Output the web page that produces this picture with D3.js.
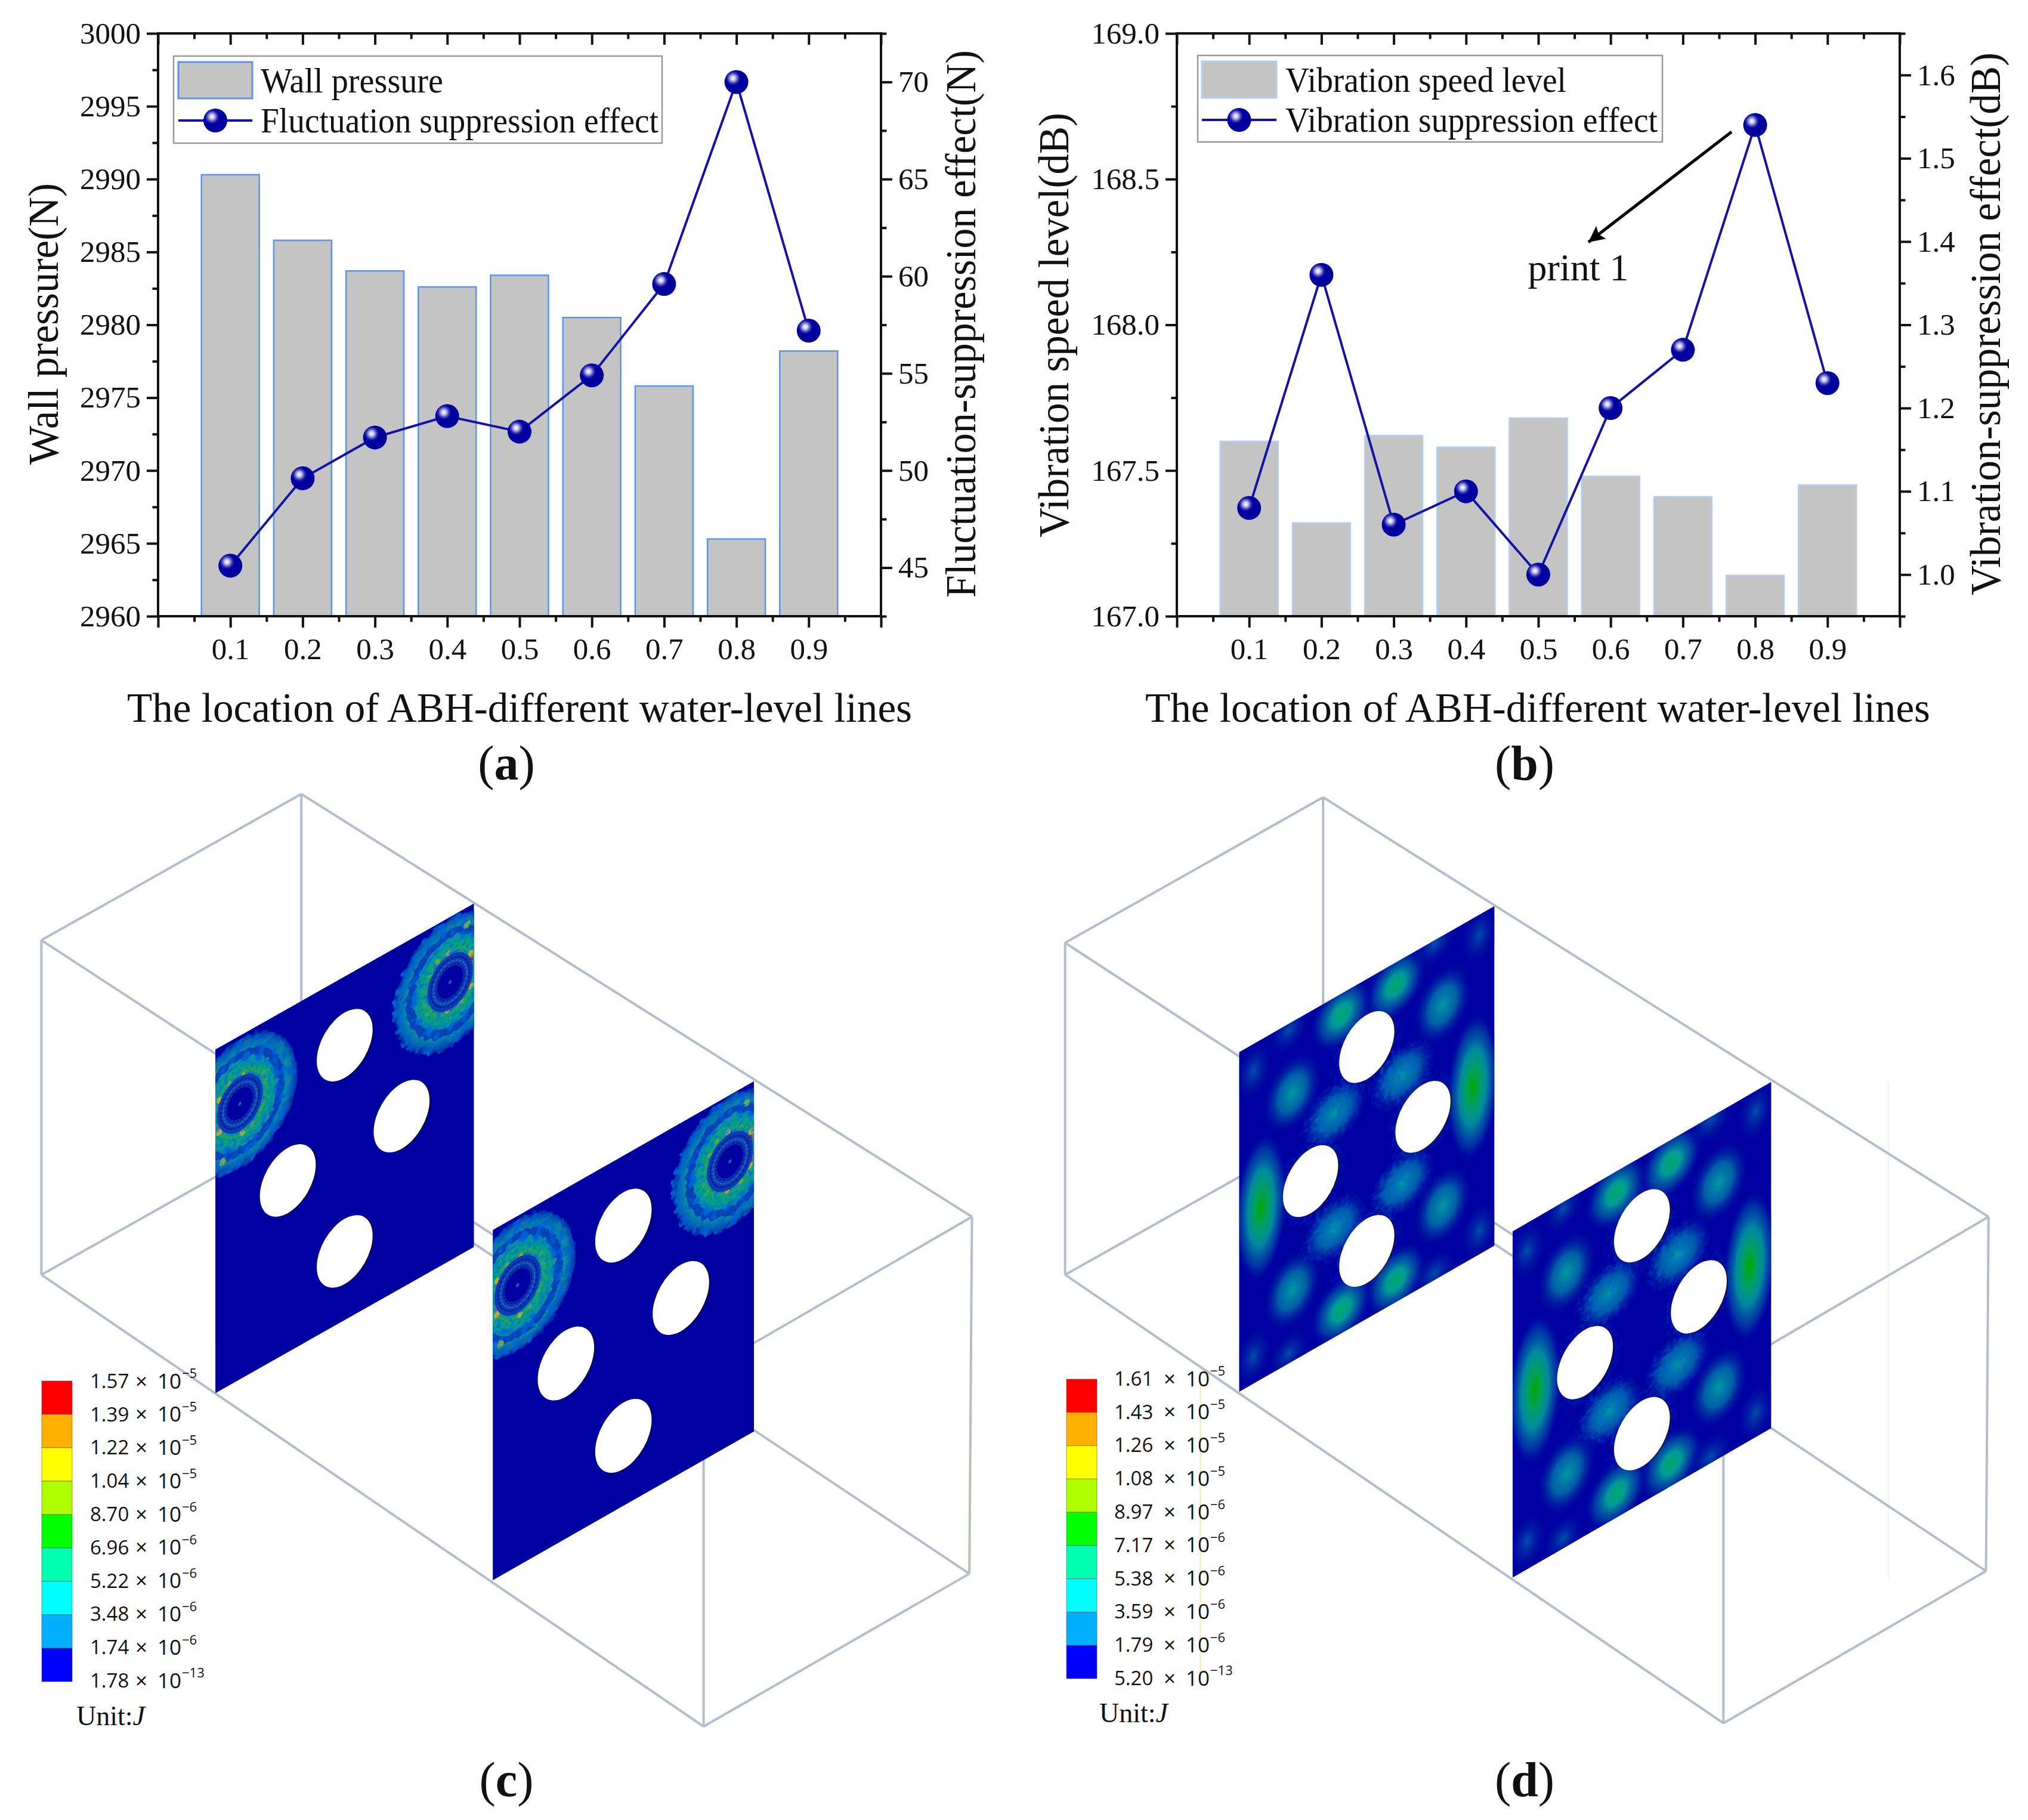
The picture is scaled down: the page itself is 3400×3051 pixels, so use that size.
<!DOCTYPE html>
<html><head><meta charset="utf-8">
<style>html,body{margin:0;padding:0;background:#fff}svg{display:block}text{font-family:"Liberation Serif",serif;fill:#111}</style>
<script src="https://cdn.jsdelivr.net/npm/d3@7"></script></head><body>
<script>
// ---------- chart values ----------
const locations=[0.1,0.2,0.3,0.4,0.5,0.6,0.7,0.8,0.9];
const wallPressure=[2990.3,2985.8,2983.7,2982.6,2983.4,2980.5,2975.8,2965.3,2978.2];
const fluctuationEffect=[45.1,49.6,51.7,52.8,52.0,54.9,59.6,70.0,57.2];
const vibrationLevel=[167.60,167.32,167.62,167.58,167.68,167.48,167.41,167.14,167.45];
const vibrationEffect=[1.08,1.36,1.06,1.10,1.00,1.20,1.27,1.54,1.23];
const cMantissa=["1.57","1.39","1.22","1.04","8.70","6.96","5.22","3.48","1.74","1.78"];
const dMantissa=["1.61","1.43","1.26","1.08","8.97","7.17","5.38","3.59","1.79","5.20"];
const legendExp=["−5","−5","−5","−5","−6","−6","−6","−6","−6","−13"];
const bandColors=["#ff0000","#ffb000","#ffff00","#b0ff00","#00ff00","#00ffb0","#00ffff","#00b0ff","#0000ff"];
// hole centres on a panel, (u,v) in panel fractions
const holes=[[.5,.2],[.72,.5],[.28,.5],[.5,.8]];
// panel (c): hot spots around ring centre, [du,dv,colour,size]
const ringSpots=[[-.08,-.026,"#d01000",3],[-.08,.035,"#d01000",3],[-.078,-.045,"#b8b000",5],[-.08,.05,"#b8b000",5],[.012,-.078,"#c0a000",4],[.007,.087,"#a0b810",4],[.099,-.023,"#30b040",4],[-.065,.14,"#70b030",6],[-.04,-.075,"#60b020",4],[.08,.05,"#40b030",4],[.05,.08,"#60b020",4],[.09,-.055,"#30b040",4]];
// panel (d): field maxima, [u,v,ru,rv,kind]
const fieldBumps=[[.916,.496,.105,.22,"strong"],[.086,.494,.105,.22,"strong"],
[.613,.066,.125,.1,"mid"],[.40,.062,.125,.1,"mid"],[.613,.934,.125,.1,"mid"],[.40,.93,.125,.1,"mid"],
[.797,.203,.12,.115,"teal"],[.208,.21,.12,.115,"teal"],[.797,.795,.12,.115,"teal"],[.208,.79,.12,.115,"teal"],
[.372,.34,.135,.095,"rough"],[.638,.342,.135,.095,"rough"],[.372,.68,.135,.095,"rough"],[.638,.66,.135,.095,"rough"],
[.765,.01,.1,.07,"faint"],[.94,.06,.08,.09,"faint"],[.056,.08,.08,.09,"faint"],[.195,.02,.09,.07,"faint"],
[.94,.93,.08,.09,"faint"],[.056,.92,.08,.09,"faint"],[.195,.97,.09,.07,"faint"],[.765,.98,.1,.07,"faint"]];
// ---------- layout ----------
const W=3400,H=3051;
const svg=d3.select("body").append("svg").attr("width",W).attr("height",H).attr("viewBox",[0,0,W,H]);
svg.append("rect").attr("width",W).attr("height",H).attr("fill","#fff");
const defs=svg.append("defs");
const ball=defs.append("radialGradient").attr("id","ball").attr("cx",.36).attr("cy",.34).attr("r",.62);
[[0,"#ffffff"],[.15,"#c9c9ee"],[.38,"#2a2ab0"],[.5,"#0000a0"],[1,"#00009c"]].forEach(s=>ball.append("stop").attr("offset",s[0]).attr("stop-color",s[1]));
const LINE="#1212a8",BALLR=20;

function panelChart(o){
  const x=d3.scaleLinear().domain([0,1]).range([o.l,o.r]);
  const yL=d3.scaleLinear().domain(o.leftDomain).range([o.b,o.t]);
  const yR=d3.scaleLinear().domain(o.rightDomain).range([o.b,o.t]);
  const g=svg.append("g");
  const bw=x(.08)-x(0);
  g.selectAll("rect.bar").data(o.bars).join("rect").attr("class","bar")
    .attr("x",(d,i)=>x(locations[i])-bw/2).attr("width",bw)
    .attr("y",d=>yL(d)).attr("height",d=>o.b-yL(d))
    .attr("fill","#c4c4c4").attr("stroke",o.barStroke).attr("stroke-width",2.5);
  function axis(maker,scale,pos,majors,minors,fmt,len){
    const mg=g.append("g").attr("transform",pos);
    mg.call(maker(scale).tickValues(minors).tickSize(len/2).tickFormat("").tickSizeOuter(0));
    mg.selectAll(".domain").remove();
    const ag=g.append("g").attr("transform",pos);
    ag.call(maker(scale).tickValues(majors).tickSize(len).tickFormat(fmt||"").tickSizeOuter(0).tickPadding(10));
    ag.selectAll(".domain").remove();
    [mg,ag].forEach(s=>s.selectAll("line").attr("stroke","#111").attr("stroke-width",4));
    ag.selectAll("text").attr("font-size",o.tickFont).attr("fill","#111");
    return ag;
  }
  const xMaj=locations.concat([0,1]).sort((a,b)=>a-b);
  const xMin=locations.map(v=>+(v-.05).toFixed(2)).concat([.95]);
  const bot=axis(d3.axisBottom,x,`translate(0,${o.b})`,xMaj,xMin,d=>(d==0||d==1)?"":d3.format(".1f")(d),19);
  bot.selectAll("text").attr("y",36).attr("dy",".71em");
  axis(d3.axisTop,x,`translate(0,${o.t})`,xMaj,xMin,null,-19);
  axis(d3.axisLeft,yL,`translate(${o.l},0)`,o.leftMajor,o.leftMinor,o.leftFmt,19);
  axis(d3.axisRight,yR,`translate(${o.r},0)`,o.rightMajor,o.rightMinor,o.rightFmt,19);
  g.append("rect").attr("x",o.l).attr("y",o.t).attr("width",o.r-o.l).attr("height",o.b-o.t).attr("fill","none").attr("stroke","#111").attr("stroke-width",4);
  const line=d3.line().x((d,i)=>x(locations[i])).y(d=>yR(d));
  g.append("path").attr("d",line(o.effect)).attr("fill","none").attr("stroke",LINE).attr("stroke-width",4);
  g.selectAll("circle.pt").data(o.effect).join("circle").attr("class","pt").attr("cx",(d,i)=>x(locations[i])).attr("cy",d=>yR(d)).attr("r",BALLR).attr("fill","url(#ball)");
  // legend
  const L=o.legend;
  g.append("rect").attr("x",L.x).attr("y",L.y).attr("width",L.w).attr("height",L.h).attr("fill","#fff").attr("stroke","#999").attr("stroke-width",2.5);
  g.append("rect").attr("x",L.sx).attr("y",L.y+10).attr("width",L.sw).attr("height",61).attr("fill","#c4c4c4").attr("stroke",o.barStroke).attr("stroke-width",3);
  g.append("line").attr("x1",L.sx).attr("x2",L.sx+L.sw).attr("y1",L.y+108).attr("y2",L.y+108).attr("stroke",LINE).attr("stroke-width",4);
  g.append("circle").attr("cx",L.sx+L.sw/2).attr("cy",L.y+108).attr("r",BALLR).attr("fill","url(#ball)");
  const lt=(s,y,len)=>g.append("text").attr("x",L.tx).attr("y",y).attr("dy",".33em").attr("font-size",60).attr("textLength",len).attr("lengthAdjust","spacingAndGlyphs").text(s);
  lt(o.names[0],L.y+41,L.len0); lt(o.names[1],L.y+108,L.len1);
  // titles
  const rot=(s,cx,cy,len)=>g.append("text").attr("transform",`translate(${cx},${cy}) rotate(-90)`).attr("text-anchor","middle").attr("dy",".33em").attr("font-size",72).attr("textLength",len).attr("lengthAdjust","spacingAndGlyphs").text(s);
  rot(o.lt[0],o.lt[1],o.lt[2],o.lt[3]); rot(o.rt[0],o.rt[1],o.rt[2],o.rt[3]);
  g.append("text").attr("x",o.xt[0]).attr("y",o.xt[1]).attr("text-anchor","middle").attr("dy",".33em").attr("font-size",70).attr("textLength",o.xt[2]).attr("lengthAdjust","spacingAndGlyphs").text("The location of ABH-different water-level lines");
  panelTag(o.tag,o.tagx,1280);
}
function panelTag(s,x,y){
  const t=svg.append("text").attr("x",x).attr("y",y).attr("text-anchor","middle").attr("dy",".33em").attr("font-size",82);
  t.append("tspan").text("(");t.append("tspan").attr("font-weight","bold").text(s);t.append("tspan").text(")");
}
panelChart({l:265,r:1477,t:56,b:1033,bars:wallPressure,effect:fluctuationEffect,barStroke:"#5b94ec",
  leftDomain:[2960,3000],rightDomain:[42.5,72.5],tickFont:51,
  leftMajor:d3.range(2960,3001,5),leftMinor:d3.range(2962.5,3000,5),leftFmt:d=>d,
  rightMajor:[45,50,55,60,65,70],rightMinor:[42.5,47.5,52.5,57.5,62.5,67.5,72.5],rightFmt:d=>d,
  names:["Wall pressure","Fluctuation suppression effect"],
  legend:{x:291,y:94,w:819,h:146,sx:299,sw:124,tx:437,len0:306,len1:667},
  lt:["Wall pressure(N)",73,543,472],rt:["Fluctuation-suppression effect(N)",1611,543,918],
  xt:[871,1187,1316],tag:"a",tagx:849});
panelChart({l:1973,r:3185,t:56,b:1033,bars:vibrationLevel,effect:vibrationEffect,barStroke:"#b3cef2",
  leftDomain:[167,169],rightDomain:[.95,1.65],tickFont:51,
  leftMajor:[167,167.5,168,168.5,169],leftMinor:[167.25,167.75,168.25,168.75],leftFmt:d3.format(".1f"),
  rightMajor:[1,1.1,1.2,1.3,1.4,1.5,1.6],rightMinor:[.95,1.05,1.15,1.25,1.35,1.45,1.55,1.65],rightFmt:d3.format(".1f"),
  names:["Vibration speed level","Vibration suppression effect"],
  legend:{x:2008,y:93,w:779,h:145,sx:2015,sw:125,tx:2155,len0:471,len1:624},
  lt:["Vibration speed level(dB)",1767,545,712],rt:["Vibration-suppression effect(dB)",3329,543,910],
  xt:[2578,1187,1316],tag:"b",tagx:2556});
// annotation in (b)
defs.append("marker").attr("id","arr").attr("viewBox","0 0 10 10").attr("refX",10).attr("refY",5).attr("markerWidth",6).attr("markerHeight",5.4).attr("orient","auto").attr("markerUnits","strokeWidth").append("path").attr("d","M0,0L10,5L0,10L2,5Z").attr("fill","#000");
svg.append("line").attr("x1",2903).attr("y1",221).attr("x2",2663).attr("y2",406).attr("stroke","#000").attr("stroke-width",5).attr("marker-end","url(#arr)");
svg.append("text").attr("x",2646).attr("y",449).attr("text-anchor","middle").attr("dy",".33em").attr("font-size",64).text("print 1");

// ---------- 3D views ----------
const pics=off=>({X:d3.scaleLinear().domain([0,1568]).range([off,off+1700]),Y:d3.scaleLinear().domain([0,1568]).range([1320,3051])});
const edges=[["a","b"],["b","c"],["c","d"],["d","a"],["e","f"],["f","g"],["g","h"],["h","e"],["a","e"],["b","f"],["c","g"],["d","h"]];
const WIRE="#b4bdcc";
function mottle(id,freq,scale,k,t){
  const f=defs.append("filter").attr("id",id).attr("x","-20%").attr("y","-20%").attr("width","140%").attr("height","140%").attr("filterUnits","objectBoundingBox");
  f.append("feTurbulence").attr("type","fractalNoise").attr("baseFrequency",freq).attr("numOctaves",2).attr("seed",4).attr("result","n");
  f.append("feDisplacementMap").attr("in","SourceGraphic").attr("in2","n").attr("scale",scale).attr("xChannelSelector","R").attr("yChannelSelector","G").attr("result","d");
  f.append("feColorMatrix").attr("in","n").attr("type","matrix").attr("values",`0 0 0 0 0  0 0 0 0 .12  0 0 0 0 .68  ${k} 0 0 0 ${t}`).attr("result","dk");
  f.append("feComposite").attr("in","dk").attr("in2","d").attr("operator","in").attr("result","dk2");
  const m=f.append("feMerge");m.append("feMergeNode").attr("in","d");m.append("feMergeNode").attr("in","dk2");
}
mottle("mot",.085,14,3.5,-1.55);
mottle("mot2",.14,7,2.5,-1.1);
const disk=defs.append("radialGradient").attr("id","disk");
[[0,"#0890a4"],[.78,"#0890a4"],[.9,"#0868b0"],[1,"#0020a8"]].forEach(s=>disk.append("stop").attr("offset",s[0]).attr("stop-color",s[1]));
const kinds={strong:[[0,"#00a800",1],[.25,"#00a060",1],[.5,"#0098a0",.9],[.78,"#0060a8",.5],[1,"#0000a0",0]],
 mid:[[0,"#00a868",1],[.3,"#009a98",1],[.65,"#0060a8",.6],[1,"#0000a0",0]],
 teal:[[0,"#0098a4",1],[.45,"#0078a8",.8],[1,"#0000a0",0]],
 rough:[[0,"#0098a4",1],[.5,"#0070a8",.8],[1,"#0000a0",0]],
 faint:[[0,"#0058ac",.9],[1,"#0000a0",0]]};
Object.entries(kinds).forEach(([k,st])=>{const g=defs.append("radialGradient").attr("id","bump-"+k);st.forEach(s=>g.append("stop").attr("offset",s[0]).attr("stop-color",s[1]).attr("stop-opacity",s[2]));});

let panelId=0;
function drawPanel(root,p,P,paint){
  const TL={x:P.X(p[0]),y:P.Y(p[1])},TR={x:P.X(p[2]),y:P.Y(p[3])},BL={y:P.Y(p[4])};
  const w=TR.x-TL.x,h=BL.y-TL.y;
  const u=d3.scaleLinear().domain([0,1]).range([0,w]),v=d3.scaleLinear().domain([0,1]).range([0,h]);
  const id="pc"+(panelId++);
  defs.append("clipPath").attr("id",id).append("rect").attr("width",w).attr("height",h);
  const g=root.append("g").attr("transform",`matrix(1,${(TR.y-TL.y)/w},0,1,${TL.x},${TL.y})`);
  const c=g.append("g").attr("clip-path",`url(#${id})`);
  c.append("rect").attr("width",w).attr("height",h).attr("fill","#0000a0");
  paint(c,u,v);
  const hg=g.selectAll("g.hole").data(holes).join("g").attr("class","hole");
  hg.append("ellipse").attr("cx",d=>u(d[0])+1.5).attr("cy",d=>v(d[1])+1).attr("rx",u(.108)).attr("ry",v(.095)).attr("fill","#111");
  hg.append("ellipse").attr("cx",d=>u(d[0])).attr("cy",d=>v(d[1])).attr("rx",u(.108)).attr("ry",v(.095)).attr("fill","#fff");
}
function paintRings(c,u,v){
  [[.095,.198,1],[.908,.19,-1]].forEach(([cu,cv,s])=>{
    const ell=(par,ru,rv)=>par.append("ellipse").attr("cx",u(cu)).attr("cy",v(cv)).attr("rx",u(ru)).attr("ry",v(rv));
    const a=c.append("g").attr("filter","url(#mot)");
    ell(a,.222,.188).attr("fill","url(#disk)");
    ell(a,.158,.14).attr("fill","none").attr("stroke","#0a40b4").attr("stroke-width",13);
    const b=c.append("g").attr("filter","url(#mot2)");
    ell(b,.118,.105).attr("fill","none").attr("stroke","#10a080").attr("stroke-width",10);
    ell(b,.1,.09).attr("fill","none").attr("stroke","#20a848").attr("stroke-width",6);
    ringSpots.forEach(r=>b.append("circle").attr("cx",u(cu+s*r[0])).attr("cy",v(cv+s*r[1])).attr("r",r[3]).attr("fill",r[2]));
    ell(c,.088,.079).attr("fill","#0a3cb0");
    [.075,.065,.054].forEach((f,i)=>ell(c,f,f*.89).attr("fill","none").attr("stroke",i==1?"#2a68c0":"#0010a0").attr("stroke-width",2).attr("stroke-dasharray","5 2"));
    ell(c,.05,.044).attr("fill","#0000a0");
    ell(c,.006,.005).attr("fill","#1a60c0");
  });
}
function paintField(c,u,v){
  const haze=c.append("g").attr("filter","url(#mot2)");
  holes.forEach(h=>haze.append("ellipse").attr("cx",u(h[0])).attr("cy",v(h[1])).attr("rx",u(.155)).attr("ry",v(.135)).attr("fill","url(#bump-faint)"));
  const plain=c.append("g"),rough=c.append("g").attr("filter","url(#mot2)");
  fieldBumps.forEach(b=>{
    const par=b[4]=="rough"?rough:plain;
    par.append("ellipse").attr("cx",u(b[0])).attr("cy",v(b[1])).attr("rx",u(b[2])).attr("ry",v(b[3])).attr("fill",`url(#bump-${b[4]})`);
  });
}
function view(o){
  const P=pics(o.off),g=svg.append("g");
  (o.pale||[]).forEach(l=>g.append("line").attr("x1",P.X(l[0])).attr("x2",P.X(l[0])).attr("y1",P.Y(l[1])).attr("y2",P.Y(l[2])).attr("stroke",l[3]).attr("stroke-width",1.5));
  g.selectAll("line.e").data(edges).join("line").attr("class","e")
    .attr("x1",e=>P.X(o.box[e[0]][0])).attr("y1",e=>P.Y(o.box[e[0]][1]))
    .attr("x2",e=>P.X(o.box[e[1]][0])).attr("y2",e=>P.Y(o.box[e[1]][1]))
    .attr("stroke",WIRE).attr("stroke-width",4);
  if(o.tint)g.append("line").attr("x1",P.X(o.tint[0])).attr("x2",P.X(o.tint[1])).attr("y1",P.Y(o.tint[2])).attr("y2",P.Y(o.tint[3])).attr("stroke","#c0c498").attr("stroke-width",2);
  o.panels.forEach(p=>drawPanel(g,p,P,o.paint));
  // colour legend
  const yb=d3.scaleBand().domain(d3.range(9)).range([o.barT,o.barB]).paddingInner(0);
  g.selectAll("rect.c").data(bandColors).join("rect").attr("class","c").attr("x",o.barL).attr("width",o.barR-o.barL)
    .attr("y",(d,i)=>yb(i)).attr("height",yb.bandwidth()).attr("fill",d=>d).attr("stroke","#555").attr("stroke-opacity",.6).attr("stroke-width",1);
  const yl=d3.scaleLinear().domain([0,9]).range([o.lblT,o.lblB]);
  const font='"Open Sans","Noto Sans",sans-serif';
  const rows=g.selectAll("g.row").data(o.mant).join("g").attr("class","row").attr("transform",(d,i)=>`translate(0,${yl(i)})`);
  rows.append("text").attr("x",o.mx).attr("dy",".36em").attr("font-size",33).style("font-family",font).text(d=>d);
  rows.append("text").attr("x",o.tx).attr("text-anchor","middle").attr("dy",".36em").attr("font-size",35).style("font-family",font).text("×");
  rows.append("text").attr("x",o.tenx).attr("dy",".36em").attr("font-size",35).style("font-family",font).text("10");
  rows.append("text").attr("x",o.tenx+41).attr("y",-9).attr("dy",".2em").attr("font-size",22).style("font-family",font).text((d,i)=>legendExp[i]);
  const ut=g.append("text").attr("x",o.unit[0]).attr("y",o.unit[1]).attr("dy",".33em").attr("font-size",46);
  ut.append("tspan").text("Unit:");ut.append("tspan").attr("font-style","italic").text("J");
  panelTag(o.tag,o.tagx,2984);
}
view({off:0,paint:paintRings,tag:"c",tagx:849,
  box:{a:[64,232],b:[466,10],c:[1503,652],d:[1088,888],e:[64,740],f:[466,518],g:[1499,1194],h:[1088,1426]},
  tint:[1501,1499,1000,1190],
  panels:[[333,398,733,176,920],[762,672,1166,446,1204]],
  barL:70,barR:121,barT:2315,barB:2819,lblT:2315,lblB:2817,mant:cMantissa,mx:151,tx:237,tenx:264,unit:[128,2877]});
view({off:1700,paint:paintField,tag:"d",tagx:2556,
  box:{a:[79,236],b:[478,15],c:[1507,652],d:[1097,888],e:[79,740],f:[478,520],g:[1503,1190],h:[1097,1421]},
  pale:[[1352,447,1202,"#f0f0e0"],[288,890,1365,"#eeee99"]],
  panels:[[348,402,743,180,918],[771,674,1171,447,1200]],
  barL:1788,barR:1839,barT:2312,barB:2814,lblT:2311,lblB:2813,mant:dMantissa,mx:1868,tx:1961,tenx:1988,unit:[1843,2872]});
</script></body></html>
